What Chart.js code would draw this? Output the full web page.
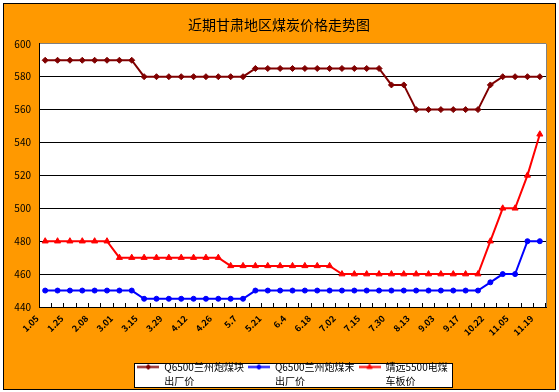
<!DOCTYPE html>
<html>
<head>
<meta charset="utf-8">
<script src="https://cdn.jsdelivr.net/npm/chart.js@4.4.0/dist/chart.umd.min.js"></script>
<style>
  html, body { margin: 0; padding: 0; background: #fff; }
</style>
</head>
<body>
<canvas id="graph1" width="559" height="392"></canvas>
<script>
const chartTitle = '近期甘肃地区煤炭价格走势图';
// one label for every second point
const tickLabels = ['1.05', '1.25', '2.08', '3.01', '3.15', '3.29', '4.12', '4.26', '5.7', '5.21', '6.4',
  '6.18', '7.02', '7.15', '7.30', '8.13', '9.03', '9.17', '10.22', '11.05', '11.19'];
const blockPrice = [590, 590, 590, 590, 590, 590, 590, 590, 580, 580, 580, 580, 580, 580, 580, 580, 580,
  585, 585, 585, 585, 585, 585, 585, 585, 585, 585, 585, 575, 575, 560, 560, 560, 560, 560, 560,
  575, 580, 580, 580, 580];
const finesPrice = [450, 450, 450, 450, 450, 450, 450, 450, 445, 445, 445, 445, 445, 445, 445, 445, 445,
  450, 450, 450, 450, 450, 450, 450, 450, 450, 450, 450, 450, 450, 450, 450, 450, 450, 450, 450,
  455, 460, 460, 480, 480];
const jingyuanPrice = [480, 480, 480, 480, 480, 480, 470, 470, 470, 470, 470, 470, 470, 470, 470,
  465, 465, 465, 465, 465, 465, 465, 465, 465, 460, 460, 460, 460, 460, 460, 460, 460, 460, 460, 460, 460,
  480, 500, 500, 520, 545];
const seriesNames = ['Q6500兰州炮煤块\n出厂价', 'Q6500兰州炮煤末\n出厂价', '靖远5500电煤\n车板价'];
const seriesColors = ['#800000', '#0000ff', '#ff0000'];
const seriesMarkers = ['rectRot', 'circle', 'triangle'];
const markerSizes = [3, 2.5, 3.5];

const categories = [];
for (let i = 0; i < blockPrice.length; i++) {
  categories.push(i % 2 === 0 ? tickLabels[i / 2] : '');
}

const family = '"Noto Sans CJK SC", "DejaVu Sans", sans-serif';
const legendFontSize = 10;
const legendBoxWidth = 22;

function makeIcon(color, style, size) {
  const c = document.createElement('canvas');
  c.width = legendBoxWidth; c.height = 9;
  const g = c.getContext('2d');
  g.strokeStyle = color;
  g.fillStyle = color;
  g.lineWidth = 2;
  g.beginPath(); g.moveTo(0, 4.5); g.lineTo(legendBoxWidth, 4.5); g.stroke();
  g.lineWidth = 1;
  Chart.helpers.drawPoint(g, {pointStyle: style, radius: size - 0.5, borderWidth: 1}, legendBoxWidth / 2, 4.5);
  return c;
}
const legendIcons = seriesColors.map((c, i) => makeIcon(c, seriesMarkers[i], markerSizes[i]));

const framePlugin = {
  id: 'frame',
  beforeDraw(chart) {
    const ctx = chart.ctx;
    const a = chart.chartArea;
    ctx.save();
    ctx.fillStyle = '#fff';
    ctx.fillRect(0, 0, chart.width, chart.height);
    ctx.fillStyle = '#ff9900';
    ctx.fillRect(4, 4, 551, 385);
    ctx.strokeStyle = '#000';
    ctx.lineWidth = 1;
    ctx.strokeRect(3.5, 3.5, 552, 386);
    ctx.fillStyle = '#fff';
    ctx.fillRect(a.left, a.top, a.right - a.left, a.bottom - a.top);
    // white legend box, sized to hold two text rows
    const hb = chart.legend.legendHitBoxes;
    if (hb && hb.length) {
      const l = Math.round(Math.min(...hb.map(b => b.left)) - 3);
      const r = Math.round(Math.max(...hb.map(b => b.left + b.width)) + 4);
      const mid = hb[0].top + hb[0].height / 2;
      const t = Math.round(mid - 4);
      const btm = Math.round(mid + 20);
      ctx.fillStyle = '#fff';
      ctx.fillRect(l + 0.5, t + 0.5, r - l, btm - t);
      ctx.strokeRect(l + 0.5, t + 0.5, r - l, btm - t);
    }
    ctx.restore();
  },
  afterDraw(chart) {
    const ctx = chart.ctx;
    const a = chart.chartArea;
    ctx.save();
    ctx.strokeStyle = '#808080';
    ctx.lineWidth = 1;
    ctx.beginPath();
    ctx.moveTo(Math.round(a.right) + 0.5, a.top);
    ctx.lineTo(Math.round(a.right) + 0.5, a.bottom);
    ctx.stroke();
    // second line of each legend label
    const hb = chart.legend.legendHitBoxes;
    ctx.fillStyle = '#000';
    ctx.font = legendFontSize + 'px ' + family;
    ctx.textAlign = 'left';
    ctx.textBaseline = 'middle';
    hb.forEach((b, i) => {
      const second = seriesNames[i].split('\n')[1];
      ctx.fillText(second, b.left + legendBoxWidth + legendFontSize / 2, b.top + b.height / 2 + 14);
    });
    ctx.restore();
  }
};

const datasets = [blockPrice, finesPrice, jingyuanPrice].map((d, i) => ({
  label: seriesNames[i],
  data: d,
  borderColor: seriesColors[i],
  backgroundColor: seriesColors[i],
  borderWidth: 2,
  pointStyle: seriesMarkers[i],
  pointRadius: markerSizes[i],
  pointBorderWidth: 1,
  tension: 0
}));

new Chart(document.getElementById('graph1'), {
  type: 'line',
  data: { labels: categories, datasets: datasets },
  options: {
    responsive: false,
    animation: false,
    layout: { padding: { left: 12, right: 13, top: 4, bottom: 10 } },
    scales: {
      x: {
        offset: true,
        grid: { offset: true, drawOnChartArea: false, tickLength: -4, color: '#000' },
        border: { color: '#000' },
        ticks: {
          autoSkip: false, maxRotation: 45, minRotation: 45, padding: 10, labelOffset: -8,
          color: '#000', font: { size: 9, weight: 'bold', family: family }
        },
        afterFit(s) { s.height = 51; }
      },
      y: {
        min: 440,
        max: 600,
        ticks: { stepSize: 20, color: '#000', padding: 8, font: { size: 10, family: family } },
        grid: { color: c => c.tick && c.tick.value === 600 ? '#808080' : '#000', drawTicks: false },
        border: { color: '#000' },
        afterFit(s) { s.width = 27; }
      }
    },
    plugins: {
      title: {
        display: true,
        text: chartTitle,
        color: '#000',
        font: { size: 14, weight: 'normal', family: family },
        padding: { top: 12, bottom: 11 }
      },
      tooltip: { enabled: false },
      legend: {
        position: 'bottom',
        fullSize: false,
        labels: {
          usePointStyle: true,
          pointStyleWidth: legendBoxWidth,
          padding: 4,
          color: '#000',
          font: { size: legendFontSize, family: family },
          generateLabels(chart) {
            return chart.data.datasets.map((ds, i) => ({
              text: ds.label.split('\n')[0],
              fillStyle: ds.borderColor,
              strokeStyle: ds.borderColor,
              lineWidth: 0,
              pointStyle: legendIcons[i],
              hidden: false,
              datasetIndex: i,
              fontColor: '#000'
            }));
          }
        }
      }
    }
  },
  plugins: [framePlugin]
});
</script>
</body>
</html>
